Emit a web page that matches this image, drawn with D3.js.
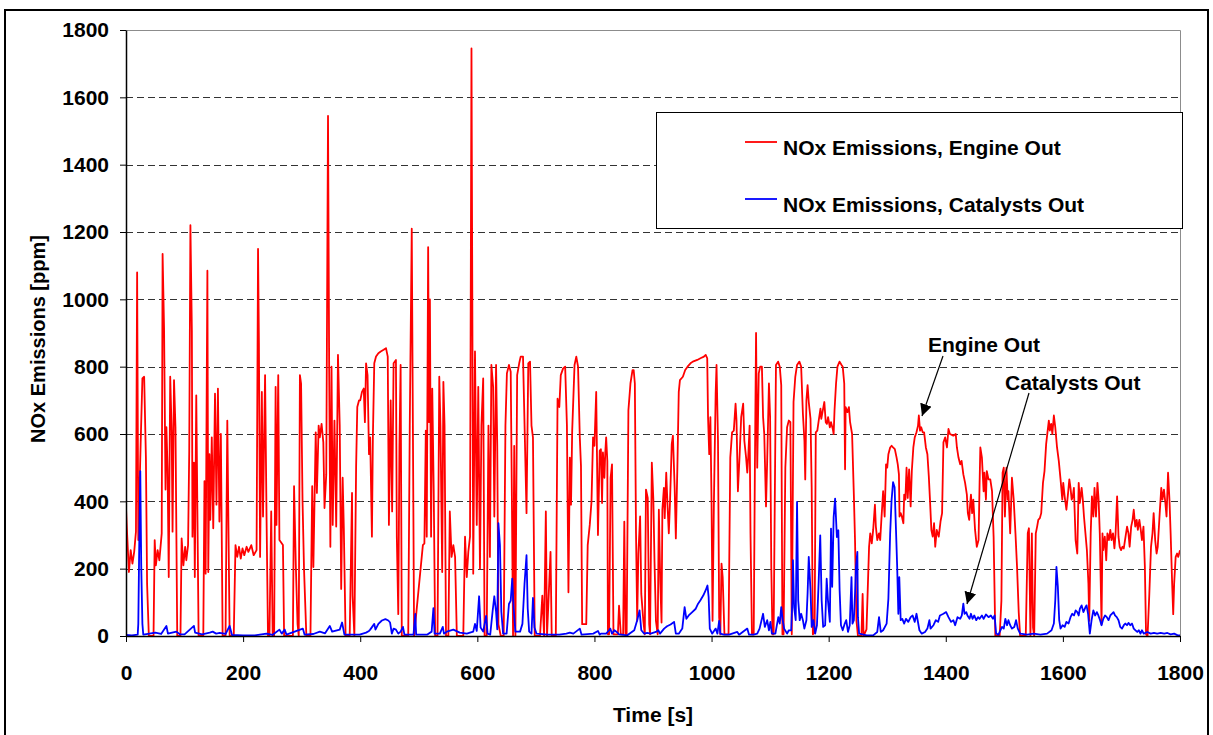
<!DOCTYPE html>
<html>
<head>
<meta charset="utf-8">
<script src="https://cdn.jsdelivr.net/npm/d3@7"></script>
<style>
  body { margin: 0; background: #fff; }
  text { font-family: "Liberation Sans", Arial, sans-serif; font-weight: bold; }
</style>
</head>
<body>
<div id="chart"></div>
<script>
// tick labels
var xTicks = [0, 200, 400, 600, 800, 1000, 1200, 1400, 1600, 1800];
var yTicks = [0, 200, 400, 600, 800, 1000, 1200, 1400, 1600, 1800];
var seriesNames = ["NOx Emissions, Engine Out", "NOx Emissions, Catalysts Out"];

// [time s, NOx ppm]
var engineOut = [[0,380],[2,300],[5,190],[8,255],[11,215],[14,250],[17,310],[19,1080],[21,285],[25,570],[28,765],[31,770],[34,530],[36,155],[39,0],[47,0],[49,285],[51,210],[54,255],[57,225],[58.5,255],[61,305],[62.5,1135],[65,915],[67.5,435],[69,620],[71,495],[73,175],[75.5,770],[78,610],[79.5,310],[82,760],[84.5,620],[87.5,0],[93,0],[95,290],[98,210],[101,265],[103,225],[106,270],[108,550],[110,1220],[112.5,905],[113.5,295],[116,515],[117.5,175],[120,715],[124,0],[132,0],[134,460],[136,185],[139,1085],[140.5,190],[142.5,540],[144,345],[146.5,590],[149,320],[152,720],[154.5,390],[157,735],[159.5,340],[162,600],[165,0],[170,0],[173,640],[177,0],[184,0],[187,270],[190,235],[193,265],[196,230],[199,260],[202,240],[206,265],[209,250],[214,270],[218,240],[223,255],[225.5,1150],[227,870],[229,235],[232,725],[234,355],[237.5,775],[240,355],[242.5,0],[245,0],[248,370],[250.5,0],[253,0],[255.5,740],[257,330],[260,775],[262,285],[268,270],[270,0],[285,0],[287,445],[290,210],[293,35],[295,0],[297,775],[299,750],[301.5,400],[304,200],[308,0],[315,0],[318,445],[320,205],[324,605],[326,425],[329,625],[331,590],[334,630],[337,575],[339,380],[342,480],[345,1545],[347,785],[349,265],[351,800],[353,330],[356,640],[359,325],[362,835],[365,625],[367.5,140],[370,470],[372,320],[375,0],[382,0],[386,425],[387,120],[390,0],[393,505],[395,680],[398,700],
[400,700],[403,725],[406,735],[408,635],[410,810],[412.5,775],[415,540],[417,590],[420,295],[421.6,590],[424,810],[427,830],[431,840],[435,845],[440,850],[444,855],[447,830],[449,330],[452,700],[454.5,370],[457,810],[461,820],[462.5,295],[465,65],[467,565],[469,805],[471,0],[482,0],[484.6,625],[488,1210],[492,0],[507,270],[509.6,275],[512,610],[513.6,295],[516,1155],[517.6,635],[519,1000],[521,295],[523,735],[525.5,435],[528,0],[532,0],[535,770],[537,625],[540,190],[542,755],[544,625],[546.5,0],[550.5,0],[553,370],[556,235],[559,270],[562,235],[565,0],[576,0],[579,295],[582,175],[584.6,250],[587.5,295],[590,1745],[593,185],[596,845],[599,330],[601.6,740],[604.5,200],[607,625],[610,765],[612.4,0],[616,0],[619,625],[621.5,235],[624,805],[627,740],[629,355],[632,805],[634,565],[636,35],[640,0],[645,0],[648,625],[650.5,780],[654,805],[657,785],[659,410],[661,0],[663,565],[665,0],[668,775],[671.5,810],[674,830],[678,830],[681,600],[684,365],[687,810],[690,815],[692.5,625],[695,590],[698,0],[707,0],[711,120],[714,0],[717,370],[719,0],[725,250],[727,0],[734,0],[737,705],[740,680],[742.5,775],[746.5,795],[750,800],[753,625],[755.6,130],[758,530],[760,390],[762,610],[766,805],[769,830],[772,800],[775,590],[777,505],[779,35],[786,35],[788.5,270],[792,330],[795,400],[797.6,590],[800,565],[803,725],[806,300],[809,550],
[811,555],[813,395],[814.5,545],[817,470],[818.5,545],[820,590],[822,520],[823,5],[825,5],[827.6,470],[830,510],[832.5,5],[840,5],[842,90],[845,5],[849,5],[851,340],[853,5],[855,5],[858,670],[861.5,750],[865,790],[867,790],[869,750],[871,305],[873,45],[875,245],[878,355],[880,125],[883.5,45],[886,5],[888,435],[891,410],[893.5,35],[895,5],[898,515],[900.6,405],[902.6,220],[905,45],[908,5],[910,375],[912.5,155],[914.6,40],[916,375],[918.6,440],[920,350],[922.6,485],[925,380],[927,305],[929,395],[932,570],[934,595],[937,440],[939,290],[941.6,500],[944,725],[946,760],[951,770],[955,790],[959,800],[964,810],[968,815],[975.6,820],[981,825],[987,830],[990,835],[992.6,825],[994,650],[996,540],[998,650],[1000,395],[1001.7,45],[1004,395],[1007,720],[1008.5,805],[1011,580],[1013,55],[1015,5],[1017,215],[1019,175],[1022,5],[1029,5],[1032,530],[1035,605],[1038,610],[1041,690],[1042.6,640],[1045,430],[1048,540],[1050.6,650],[1054,690],[1056,580],[1059,530],[1061,485],[1062.6,530],[1065,625],[1066.5,305],[1069,5],[1072,5],[1074,500],[1076,900],[1078,500],[1080.6,780],[1083,800],[1086,800],[1088,650],[1090,600],[1093,385],[1095,520],[1098,750],[1100,650],[1102,205],[1104,5],[1106,5],[1108,405],[1110,805],[1113.6,815],[1116.5,800],[1119,745],[1121,5],[1123,5],[1126,500],[1129,620],[1132,640],[1134.6,635],[1137,5],[1140,695],[1143,770],[1146,805],[1150,815],[1153,800],[1156,660],[1158.6,580],[1160,465],[1162,700],[1164,745],[1166,695],[1169,645],[1171,440],[1173,5],[1176,10],[1178,605],[1180.6,610],[1183,640],[1186,675],[1187.4,645],[1190,670],[1192.6,695],[1195,635],[1197,630],[1199,650],[1202,620],[1204,635],[1207,615],[1208.5,600],[1210,670],[1212.6,750],[1215,800],[1218.6,815],[1222,805],[1224,800],
[1226.6,750],[1228,495],[1229,680],[1232,665],[1234.6,680],[1236.6,635],[1240,600],[1243,420],[1245,285],[1247.5,45],[1250,0],[1256,0],[1258,125],[1259.6,0],[1264.6,20],[1269,265],[1271,305],[1273.6,275],[1276,315],[1279,390],[1280.6,325],[1283,285],[1286,305],[1288,285],[1290,345],[1293,430],[1295.6,355],[1298,510],[1300,500],[1302,540],[1305,560],[1307.5,565],[1310,560],[1313,555],[1316,530],[1318,510],[1320,480],[1321,355],[1323,365],[1325,355],[1327.6,335],[1329,420],[1331,405],[1333,500],[1335,410],[1337.4,495],[1340,385],[1342,490],[1344.6,560],[1347,590],[1350,605],[1352.6,625],[1354,655],[1356,610],[1358,620],[1360.6,605],[1363,605],[1366,560],[1368.6,540],[1371,475],[1373,405],[1375.4,315],[1377.7,295],[1380,335],[1382,265],[1384.6,315],[1388,295],[1391,340],[1393.7,365],[1396,575],[1399,590],[1402,560],[1404.6,615],[1407,600],[1413,595],[1417,600],[1419,560],[1421.7,530],[1424.6,510],[1427,520],[1430,480],[1433,455],[1436,420],[1437.7,365],[1440,345],[1441.7,395],[1443,420],[1445,365],[1447,405],[1450,315],[1453,265],[1456,285],[1457.7,450],[1459,560],[1461.7,530],[1464.6,430],[1466,485],[1468.6,405],[1470,490],[1473,465],[1476,465],[1479,430],[1481.7,295],[1484.6,0],[1492,0],[1495,105],[1497,485],[1499,500],[1501,355],[1503.6,500],[1505.7,405],[1507,430],[1510,305],[1513,470],[1516,405],[1519,305],[1521.7,205],[1524.6,70],[1527,0],[1536.6,0],[1540,305],[1542,320],[1544.6,0],[1547,305],[1549,25],[1551,0],[1553.7,305],[1556,325],[1558,345],[1560.6,350],[1563,365],[1566,455],[1568.6,490],[1571.4,570],[1574,610],[1576,640],[1577.7,610],[1580,630],[1582,600],[1584.6,655],[1587,620],[1590,560],[1593,520],[1596,465],[1599,405],[1600.6,455],[1603,415],[1606,375],[1608.6,420],[1611,465],[1613,440],[1615,405],[1617,415],[1618.8,440],[1621.7,285],[1624.6,245],[1627,455],
[1629,395],[1632,440],[1634,405],[1636,355],[1641,255],[1643.6,155],[1645,45],[1647.5,305],[1649.6,415],[1652,355],[1654,440],[1656.5,355],[1659,455],[1661,405],[1663,305],[1666,35],[1667.6,305],[1669,255],[1671.6,295],[1674,225],[1676,305],[1678.6,285],[1681,315],[1683,285],[1685.6,305],[1688,260],[1690,305],[1692.6,415],[1695,295],[1697,265],[1699.4,255],[1701.7,265],[1704,260],[1707,295],[1709.6,325],[1712,305],[1714,265],[1716.6,325],[1719,345],[1721,375],[1723.6,325],[1726,345],[1728,315],[1730.6,345],[1733,315],[1735,285],[1737.6,325],[1740,205],[1742,5],[1744.6,0],[1747.6,125],[1750.5,265],[1753,305],[1755,365],[1757.6,285],[1760,245],[1762,265],[1765,355],[1768,440],[1770,405],[1772.6,435],[1775,395],[1777,355],[1779.6,485],[1782,405],[1784,305],[1786.6,155],[1788.4,65],[1790,155],[1792.6,235],[1795,245],[1797,235],[1800,255]];

var catalystsOut = [[0,3],[10,2],[20,4],[21,36],[22.7,285],[24.4,490],[26,210],[28,36],[29.5,4],[40,7],[50,10],[60,6],[69,30],[71.6,7],[86,13],[92,5],[100,5],[116,30],[118,10],[130,5],[143,10],[148,13],[154,7],[160,9],[170,6],[177,30],[181,3],[200,2],[220,2],[240,7],[250,3],[262,19],[266,7],[271,19],[274,4],[302,22],[305,4],[320,6],[331,13],[340,8],[348,30],[352,13],[365,19],[369,40],[373,4],[399,4],[410,10],[415,15],
[417,19],[424,36],[426,19],[431,36],[437,46],[443,50],[448,46],[451,40],[454,7],[457,22],[461,19],[465,7],[469,13],[473,27],[475.5,4],[491,4],[494,66],[495.5,4],[514,4],[522,13],[525,83],[527,7],[536,7],[541,27],[543,7],[548,13],[559,19],[570,10],[582,7],[593,13],[596,36],[599,15],[603,118],[605.6,25],[610,13],[615,60],[617.5,7],[622,4],[626,72],[629,118],[632,72],[634,20],[636,335],[638.6,270],[641,72],[644,7],[650,7],[654,95],[657,105],[659.6,170],[662,83],[665,13],[673,13],[677,36],[680.6,155],[684,240],[686,83],[688.5,13],[692.5,7],[695,113],[697.6,25],[701,7],[720,4],[740,4],[752,7],[758,10],[764,7],[775,22],[778,4],[798,7],[806,15],[809,4],
[811,7],[820,7],[825,17],[827,22],[830,7],[834,17],[838,12],[842,5],[856,2],[868,17],[873,47],[877,76],[880,17],[885,7],[890,9],[896,7],[905,12],[909,17],[912,7],[919,22],[924,29],[930,34],[936,42],[939,7],[944,7],[950,22],[954,86],[957,51],[961,61],[967,71],[973,81],[977,96],[981,106],[986,121],[990,136],[993,150],[995,116],[997,22],[1001,7],[1007,22],[1010,7],[1013,45],[1015,7],[1021,4],[1030,4],[1044,12],[1047,4],[1061,22],[1064,4],[1072,4],[1078,7],[1082,22],[1088,66],[1091,27],[1095,47],[1098,17],[1100.5,42],[1103,7],[1109,7],[1114,56],[1116.5,37],[1119,86],[1121.5,47],[1124,22],[1129,7],[1132,17],[1136,17],[1138,106],[1139,225],[1141,86],[1143.7,47],[1146,398],[1148,106],[1150.5,47],[1153,66],[1156,47],[1158.5,22],[1162,47],[1164,126],[1166,235],[1169,136],[1171,27],[1174,47],[1177,7],[1180,32],[1183,165],[1185.6,299],[1188,106],[1190.6,27],[1194,32],[1196.6,170],[1198.8,106],[1202,42],[1204,319],[1206,146],[1208.5,353],[1211,408],[1214,294],[1216.5,314],[1218.7,136],
[1221,32],[1224,17],[1227.5,37],[1230,47],[1233,12],[1236,32],[1239,175],[1240.6,37],[1243,47],[1245,126],[1246.6,205],[1249,250],[1250,56],[1252,7],[1265,2],[1276,2],[1283,12],[1286,56],[1289,12],[1293,17],[1299,37],[1302,111],[1305,304],[1307.4,403],[1310,457],[1312.6,442],[1315,314],[1317,205],[1319,66],[1320.6,175],[1323,47],[1325.7,51],[1329,37],[1332,51],[1336,42],[1340,56],[1343.4,61],[1347,42],[1350,66],[1355,17],[1359,7],[1364.6,12],[1368.6,22],[1372,47],[1374,22],[1379,32],[1383,47],[1387,42],[1390,61],[1396,66],[1400.6,71],[1404.6,56],[1409,42],[1413,47],[1416,32],[1420,56],[1424.6,51],[1427.4,61],[1430,96],[1432,66],[1435,71],[1437,61],[1440.6,51],[1443,66],[1445.7,51],[1448.6,61],[1452,47],[1455,56],[1457.7,51],[1461.7,61],[1464.6,51],[1468.6,64],[1473,56],[1477,61],[1480.6,51],[1483.4,61],[1486,7],[1490,4],[1496,27],[1499,22],[1501.7,51],[1504.6,32],[1507,47],[1510,32],[1513,22],[1517,27],[1520,47],[1523,22],[1527,7],[1539,4],[1550,7],[1561.7,4],[1573,7],[1580.6,17],[1584.6,37],[1587,106],[1589,205],[1591.4,146],[1593.7,47],[1596,22],[1599.4,32],[1603,27],[1606,42],[1609.7,37],[1613,56],[1616,66],[1619,61],[1621.7,76],[1624.6,71],[1627,61],
[1629,81],[1632,91],[1635,71],[1638.6,86],[1640.5,91],[1643,66],[1646,7],[1649,47],[1652,76],[1655,61],[1658,71],[1660.6,61],[1663.5,47],[1666,32],[1669,51],[1672,61],[1675,56],[1678,47],[1681,61],[1683.6,66],[1686.5,71],[1689,61],[1692,56],[1695,47],[1698,27],[1701,22],[1704,32],[1706.6,37],[1709.5,32],[1712,39],[1715,32],[1718,37],[1721,22],[1724,17],[1727,12],[1729.6,17],[1732.5,7],[1735,17],[1738,7],[1744,12],[1750,7],[1755.5,9],[1761,7],[1767,9],[1773,7],[1778.5,9],[1784,5],[1790,7],[1796,2],[1800,2]];

var width = 1213, height = 735;
var plotLeft = 126, plotRight = 1180, plotTop = 30, plotBottom = 636;

var svg = d3.select("#chart")
            .append("svg")
            .attr("width", width)
            .attr("height", height)

// outer frame of the figure
svg.append("rect")
    .attr("x", 5).attr("y", 10)
    .attr("width", 1203).attr("height", 800)
    .attr("fill", "none")
    .attr("stroke", "#000")
    .attr("stroke-width", 2)

var x = d3.scaleLinear().domain([0, 1800]).range([plotLeft, plotRight]);
var y = d3.scaleLinear().domain([0, 1800]).range([plotBottom, plotTop]);

// dashed gridlines
svg.append("g")
    .selectAll("line")
    .data(yTicks.filter(d => d > 0 && d < 1800))
    .enter()
    .append("line")
    .attr("x1", plotLeft).attr("x2", plotRight)
    .attr("y1", d => Math.round(y(d)) + 0.5).attr("y2", d => Math.round(y(d)) + 0.5)
    .attr("stroke", "#333")
    .attr("stroke-dasharray", "7,4")

// plot area border (top / right)
svg.append("path")
    .attr("d", "M" + plotLeft + "," + (plotTop + 0.5) + "H" + (plotRight + 0.5) + "V" + plotBottom)
    .attr("fill", "none")
    .attr("stroke", "#8c8c8c")

svg.append("clipPath").attr("id", "clip")
    .append("rect")
    .attr("x", plotLeft).attr("y", plotTop - 2)
    .attr("width", plotRight - plotLeft).attr("height", plotBottom - plotTop + 2)

var line = d3.line()
            .x(d => x(d[0]))
            .y(d => y(d[1]));

var plot = svg.append("g").attr("clip-path", "url(#clip)");

plot.append("path")
    .datum(engineOut)
    .attr("d", line)
    .attr("fill", "none")
    .attr("stroke", "#ff0000")
    .attr("stroke-width", 1.8)
    .attr("stroke-linejoin", "round")

plot.append("path")
    .datum(catalystsOut)
    .attr("d", line)
    .attr("fill", "none")
    .attr("stroke", "#0000ff")
    .attr("stroke-width", 1.8)
    .attr("stroke-linejoin", "round")

// axes
var yAxis = svg.append("g")
    .attr("transform", "translate(" + plotLeft + ",0)")
    .call(d3.axisLeft(y).tickValues(yTicks).tickFormat(d3.format("d")).tickSize(6).tickPadding(11).tickSizeOuter(0))
yAxis.selectAll("text").style("font-size", "21px").attr("fill", "#000")

var xAxis = svg.append("g")
    .attr("transform", "translate(0," + plotBottom + ")")
    .call(d3.axisBottom(x).tickValues(xTicks).tickFormat(d3.format("d")).tickSize(6).tickPadding(23).tickSizeOuter(0))
xAxis.selectAll("text").style("font-size", "21px").attr("fill", "#000")

svg.selectAll(".domain").attr("stroke", "#000").attr("stroke-width", 1.5)
svg.selectAll(".tick line").attr("stroke", "#000")

// axis titles
svg.append("text")
    .attr("transform", "translate(45,339) rotate(-90)")
    .attr("text-anchor", "middle")
    .style("font-size", "20px")
    .text("NOx Emissions [ppm]")

svg.append("text")
    .attr("x", 653).attr("y", 722)
    .attr("text-anchor", "middle")
    .style("font-size", "21px")
    .text("Time [s]")

// legend
var legend = svg.append("g");
legend.append("rect")
    .attr("x", 656.5).attr("y", 112.5)
    .attr("width", 526).attr("height", 116)
    .attr("fill", "#fff")
    .attr("stroke", "#000")

var colors = ["#ff0000", "#0000ff"];
var legendY = [142, 199];
seriesNames.forEach((name, i) => {
    legend.append("line")
        .attr("x1", 745).attr("x2", 777)
        .attr("y1", legendY[i]).attr("y2", legendY[i])
        .attr("stroke", colors[i])
        .attr("stroke-width", 1.8)
    legend.append("text")
        .attr("x", 783).attr("y", legendY[i] + 12.5)
        .style("font-size", "21px")
        .text(name)
})

// annotations
svg.append("defs").append("marker")
    .attr("id", "arrow")
    .attr("viewBox", "0 0 10 10")
    .attr("refX", 10).attr("refY", 5)
    .attr("markerWidth", 12).attr("markerHeight", 12)
    .attr("markerUnits", "userSpaceOnUse")
    .attr("orient", "auto")
    .append("path")
    .attr("d", "M0,0L10,5L0,10z")
    .attr("fill", "#000")

svg.append("text").attr("x", 928).attr("y", 352).style("font-size", "21px").text("Engine Out")
svg.append("line")
    .attr("x1", 943).attr("y1", 356).attr("x2", 922).attr("y2", 416)
    .attr("stroke", "#000").attr("stroke-width", 1.2)
    .attr("marker-end", "url(#arrow)")

svg.append("text").attr("x", 1005).attr("y", 390).style("font-size", "21px").text("Catalysts Out")
svg.append("line")
    .attr("x1", 1029).attr("y1", 393).attr("x2", 967).attr("y2", 604)
    .attr("stroke", "#000").attr("stroke-width", 1.2)
    .attr("marker-end", "url(#arrow)")
</script>
</body>
</html>
